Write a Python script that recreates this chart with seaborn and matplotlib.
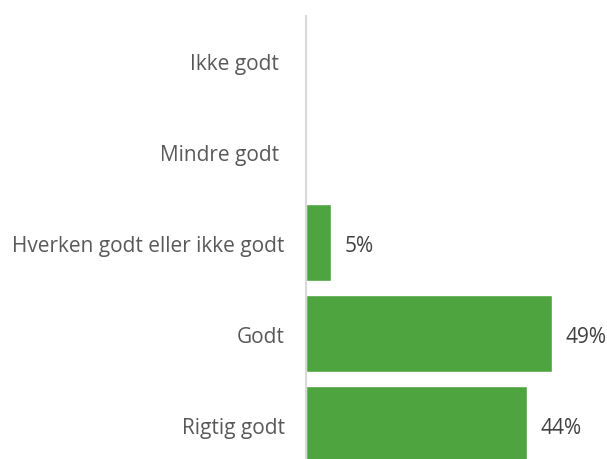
import matplotlib
matplotlib.use('Agg')
import matplotlib.pyplot as plt
import seaborn as sns
import pandas as pd

kategorier = ['Ikke godt ', 'Mindre godt ', 'Hverken godt eller ikke godt', 'Godt', 'Rigtig godt']
andele = [0, 0, 5, 49, 44]
etiketter = ['', '', '5%', '49%', '44%']

df = pd.DataFrame({'Kategori': kategorier, 'Andel': andele})

sns.set_style('white')
plt.rcParams['font.family'] = ['Open Sans', 'DejaVu Sans']

fig = plt.figure(figsize=(6.07, 4.60), dpi=100)
ax = fig.add_axes([305.5 / 607, 0, 1 - 305.5 / 607, 1 - 17 / 460])

sns.barplot(data=df, x='Andel', y='Kategori', color='#4ea43f', saturation=1,
            width=0.846, orient='h', ax=ax)

for i, (v, lab) in enumerate(zip(andele, etiketter)):
    if lab:
        ax.text(v + 2.7, i + 0.03, lab, va='center', ha='left', fontsize=15, color='#404040')

ax.set_xlim(0, 60)
ax.set_ylim(4.379, -0.489)
ax.set_xlabel('')
ax.set_ylabel('')
ax.set_xticks([])
ax.tick_params(axis='y', length=0, pad=15, labelsize=15, labelcolor='#595959')
for s in ['top', 'right', 'bottom']:
    ax.spines[s].set_visible(False)
ax.spines['left'].set_color('#d9d9d9')
ax.spines['left'].set_linewidth(1.5)

fig.savefig('out.png', dpi=100)
